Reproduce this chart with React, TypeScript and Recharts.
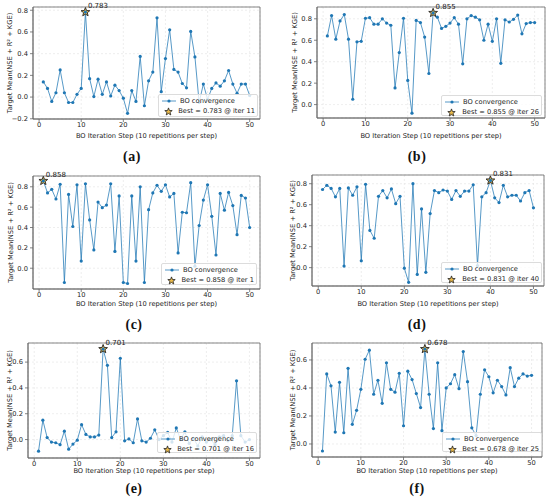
import { LineChart, Line, XAxis, YAxis, CartesianGrid, ReferenceDot, ReferenceArea, Legend } from 'recharts'

document.body.style.margin = '0'

const ITERS = [
  1, 2, 3, 4, 5, 6, 7, 8, 9, 10, 11, 12, 13, 14, 15, 16, 17, 18, 19, 20, 21, 22, 23, 24, 25,
  26, 27, 28, 29, 30, 31, 32, 33, 34, 35, 36, 37, 38, 39, 40, 41, 42, 43, 44, 45, 46, 47, 48, 49, 50,
]
const X_TICKS = [0, 10, 20, 30, 40, 50]
const X_LABEL = 'BO Iteration Step (10 repetitions per step)'
const Y_LABEL = 'Target Mean(NSE + R² + KGE)'
const SERIES_NAME = 'BO convergence'

// (a)
const A_VALUES = [
  0.14, 0.08, -0.04, 0.04, 0.25, 0.04, -0.05, -0.05, 0.025, 0.08,
  0.783, 0.17, 0.005, 0.165, 0.025, 0.14, 0.01, 0.11, 0.06, -0.01,
  -0.15, 0.06, -0.04, 0.375, -0.08, 0.15, 0.23, 0.73, 0.05, 0.355,
  0.62, 0.255, 0.23, 0.125, 0.085, 0.605, 0.37, -0.05, 0.12, -0.02,
  0.08, 0.13, 0.1, 0.15, 0.245, 0.12, 0.035, 0.12, 0.12, 0.015,
]
const A_BEST = { iter: 11, value: 0.783 }

// (b)
const B_VALUES = [
  0.64, 0.83, 0.61, 0.78, 0.84, 0.61, 0.05, 0.585, 0.59, 0.805,
  0.81, 0.75, 0.75, 0.8, 0.76, 0.74, 0.155, 0.485, 0.805, 0.225,
  -0.08, 0.785, 0.765, 0.63, 0.29, 0.855, 0.815, 0.71, 0.73, 0.76,
  0.81, 0.75, 0.38, 0.8, 0.83, 0.815, 0.79, 0.6, 0.75, 0.59,
  0.8, 0.385, 0.79, 0.77, 0.795, 0.835, 0.66, 0.755, 0.765, 0.765,
]
const B_BEST = { iter: 26, value: 0.855 }

// (c)
const C_VALUES = [
  0.858, 0.74, 0.775, 0.68, 0.825, -0.14, 0.725, 0.41, 0.82, 0.07,
  0.83, 0.475, 0.18, 0.65, 0.595, 0.62, 0.83, 0.165, 0.71, -0.14,
  -0.15, 0.71, 0.07, 0.8, -0.14, 0.575, 0.74, 0.815, 0.755, 0.82,
  0.7, 0.735, 0.15, 0.55, 0.545, 0.84, 0.02, 0.42, 0.67, 0.82,
  0.51, 0.13, 0.735, 0.57, 0.745, 0.615, 0.33, 0.715, 0.69, 0.4,
]
const C_BEST = { iter: 1, value: 0.858 }

// (d)
const D_VALUES = [
  0.745, 0.785, 0.755, 0.675, 0.755, 0.015, 0.76, 0.69, 0.77, 0.065,
  0.795, 0.355, 0.28, 0.68, 0.735, 0.665, 0.75, 0.61, 0.68, -0.005,
  -0.14, 0.8, -0.065, 0.56, -0.045, 0.515, 0.735, 0.715, 0.74, 0.73,
  0.65, 0.735, 0.68, 0.73, 0.73, 0.79, 0.02, 0.675, 0.715, 0.831,
  0.665, 0.62, 0.785, 0.675, 0.69, 0.69, 0.635, 0.715, 0.735, 0.57,
]
const D_BEST = { iter: 40, value: 0.831 }

// (e)
const E_VALUES = [
  -0.09, 0.15, 0.015, -0.02, -0.025, -0.04, 0.065, -0.075, -0.035, -0.005,
  0.115, 0.04, 0.02, 0.02, 0.035, 0.701, 0.575, 0.015, 0.06, 0.63,
  -0.01, 0.005, -0.025, 0.16, -0.01, -0.02, 0.01, 0.075, 0.0, 0.03,
  0.055, -0.02, 0.09, 0.0, 0.06, -0.03, 0.01, -0.05, 0.02, -0.02,
  0.0, -0.04, 0.02, 0.03, -0.01, 0.03, 0.455, 0.03, -0.02, 0.0,
]
const E_BEST = { iter: 16, value: 0.701 }

// (f)
const F_VALUES = [
  -0.05, 0.5, 0.415, 0.085, 0.44, 0.08, 0.54, 0.14, 0.24, 0.39,
  0.605, 0.67, 0.355, 0.455, 0.29, 0.58, 0.39, 0.37, 0.505, 0.13,
  0.52, 0.46, 0.36, 0.26, 0.678, 0.355, 0.11, 0.58, 0.095, 0.4,
  0.43, 0.495, 0.395, 0.66, 0.445, 0.115, 0.06, 0.355, 0.53, 0.48,
  0.365, 0.455, 0.41, 0.35, 0.545, 0.41, 0.47, 0.5, 0.485, 0.49,
]
const F_BEST = { iter: 25, value: 0.678 }

const Y_TICKS_A = [-0.2, 0, 0.2, 0.4, 0.6, 0.8]
const Y_TICKS_BCD = [0, 0.2, 0.4, 0.6, 0.8]
const Y_TICKS_EF = [0, 0.2, 0.4, 0.6]

const X_DOMAIN = [-1.45, 52.45]
const CHART_W = 275
const CHART_H = 140
const FS = 6.7
const BLUE = '#1f77b4'
const AXIS = '#666'

const PANELS = [
  { id: 'a', values: A_VALUES, best: A_BEST, yTicks: Y_TICKS_A, yDomain: [-0.202, 0.83], left: 0, top: 0,
    plot: { l: 33, r: 260, t: 7, b: 119 }, yLabelX: 10, cap: { x: 132, y: 157 }, leg: { x: 158, y: 94, w: 100, h: 23 } },
  { id: 'b', values: B_VALUES, best: B_BEST, yTicks: Y_TICKS_BCD, yDomain: [-0.125, 0.91], left: 275, top: 0,
    plot: { l: 42, r: 270, t: 7, b: 118 }, yLabelX: 20, cap: { x: 142, y: 157 }, leg: { x: 166, y: 95, w: 101, h: 21 } },
  { id: 'c', values: C_VALUES, best: C_BEST, yTicks: Y_TICKS_BCD, yDomain: [-0.204, 0.906], left: 0, top: 168,
    plot: { l: 33, r: 260, t: 8, b: 121 }, yLabelX: 11, cap: { x: 134, y: 157 }, leg: { x: 161, y: 95, w: 96, h: 22 } },
  { id: 'd', values: D_VALUES, best: D_BEST, yTicks: Y_TICKS_BCD, yDomain: [-0.175, 0.883], left: 275, top: 168,
    plot: { l: 37, r: 269, t: 7, b: 118 }, yLabelX: 18, cap: { x: 142, y: 157 }, leg: { x: 166, y: 94, w: 101, h: 21 } },
  { id: 'e', values: E_VALUES, best: E_BEST, yTicks: Y_TICKS_EF, yDomain: [-0.143, 0.748], left: 0, top: 335,
    plot: { l: 28, r: 260, t: 8, b: 123 }, yLabelX: 10, cap: { x: 134, y: 154 }, leg: { x: 157, y: 97, w: 100, h: 21 } },
  { id: 'f', values: F_VALUES, best: F_BEST, yTicks: Y_TICKS_EF, yDomain: [-0.093, 0.721], left: 275, top: 335,
    plot: { l: 37, r: 267, t: 8, b: 122 }, yLabelX: 18, cap: { x: 142, y: 154 }, leg: { x: 167, y: 97, w: 100, h: 20 } },
]

function fmtY(v: number) {
  return v < 0 ? '\u2212' + Math.abs(v).toFixed(1) : v.toFixed(1)
}

function starPath(cx: number, cy: number, R: number, r: number) {
  let d = ''
  for (let i = 0; i < 10; i++) {
    const rad = i % 2 === 0 ? R : r
    const a = -Math.PI / 2 + (i * Math.PI) / 5
    d += (i ? 'L' : 'M') + (cx + rad * Math.cos(a)).toFixed(2) + ',' + (cy + rad * Math.sin(a)).toFixed(2)
  }
  return d + 'Z'
}

function StarIcon({ size = 9 }: { size?: number }) {
  const c = size / 2
  return (
    <svg width={size} height={size} style={{ display: 'block' }}>
      <path d={starPath(c, c + 0.3, c - 0.6, (c - 0.6) * 0.42)} fill="#e9b949" stroke="#222" strokeWidth={0.8} />
    </svg>
  )
}

function LegendBox({ best }: { best: { iter: number; value: number } }) {
  const row = { display: 'flex', alignItems: 'center', height: 10, fontSize: FS, color: '#222', whiteSpace: 'nowrap' as const }
  return (
    <div style={{ width: '100%', height: '100%', boxSizing: 'border-box', background: 'rgba(255,255,255,0.8)',
      border: '1px solid #dcdcdc', borderRadius: 2, padding: '1px 2px' }}>
      <div style={row}>
        <svg width={16} height={6} style={{ marginRight: 3 }}>
          <line x1={1} y1={3} x2={15} y2={3} stroke={BLUE} strokeOpacity={0.75} strokeWidth={1} />
          <circle cx={8} cy={3} r={1.6} fill={BLUE} />
        </svg>
        <span>{SERIES_NAME}</span>
      </div>
      <div style={row}>
        <div style={{ width: 16, marginRight: 3, display: 'flex', justifyContent: 'center' }}>
          <StarIcon />
        </div>
        <span>{`Best = ${best.value.toFixed(3)} @ iter ${best.iter}`}</span>
      </div>
    </div>
  )
}

function Panel({ p }: { p: (typeof PANELS)[number] }) {
  const data = ITERS.map((iter, i) => ({ iter, value: p.values[i] }))
  const { l, r, t, b } = p.plot
  const tick = { fontSize: FS, fill: '#222' }
  return (
    <div style={{ position: 'absolute', left: p.left, top: p.top, width: CHART_W, height: 168 }}>
      <LineChart width={CHART_W} height={CHART_H} data={data} margin={{ top: t, right: CHART_W - r, left: 0, bottom: 0 }}>
        <CartesianGrid stroke="#e2e2e2" strokeDasharray="2 2" strokeWidth={0.6} />
        <XAxis dataKey="iter" type="number" domain={X_DOMAIN} ticks={X_TICKS} height={CHART_H - b}
          tick={tick} tickSize={3} tickMargin={0.5} stroke={AXIS} strokeWidth={0.8}
          label={{ value: X_LABEL, position: 'insideBottom', offset: 1.8, style: { fontSize: FS, fill: '#222' } }} />
        <YAxis type="number" domain={p.yDomain} ticks={p.yTicks} width={l} allowDataOverflow
          tick={tick} tickSize={3} tickMargin={2} tickFormatter={fmtY} stroke={AXIS} strokeWidth={0.8}
          label={{ value: Y_LABEL, angle: -90, position: 'insideLeft', offset: p.yLabelX,
            style: { fontSize: FS, fill: '#222', textAnchor: 'middle' } }} />
        <ReferenceArea x1={X_DOMAIN[0]} x2={X_DOMAIN[1]} y1={p.yDomain[0]} y2={p.yDomain[1]}
          fill="none" stroke={AXIS} strokeWidth={0.8} ifOverflow="visible" />
        <Line type="linear" dataKey="value" name={SERIES_NAME} stroke={BLUE} strokeOpacity={0.75} strokeWidth={1}
          dot={{ r: 1.6, fill: BLUE, stroke: BLUE, strokeWidth: 0, fillOpacity: 1 }} activeDot={false}
          isAnimationActive={false} />
        <ReferenceDot x={p.best.iter} y={p.best.value} r={4} ifOverflow="visible"
          shape={(s: any) => (
            <g>
              <path d={starPath(s.cx, s.cy, 4.6, 1.95)} fill="#e9b949" stroke="#222" strokeWidth={0.9} />
              <text x={s.cx + 2.5} y={s.cy - 4} fontSize={7} fill="#222">{p.best.value.toFixed(3)}</text>
            </g>
          )} />
        <Legend layout="vertical" align="center" verticalAlign="middle"
          wrapperStyle={{ left: p.leg.x, top: p.leg.y, width: p.leg.w, height: p.leg.h, margin: 0, padding: 0 }}
          content={() => <LegendBox best={p.best} />} />
      </LineChart>
      <div style={{ position: 'absolute', left: p.cap.x, top: p.cap.y, transform: 'translate(-50%, -50%)',
        fontFamily: '"Liberation Serif", serif', fontSize: 14, fontWeight: 'bold', letterSpacing: 0.5,
        color: '#111', lineHeight: 1 }}>
        ({p.id})
      </div>
    </div>
  )
}

export default function App() {
  return (
    <div style={{ position: 'relative', width: 550, height: 503, background: '#fff', fontFamily: '"DejaVu Sans", sans-serif' }}>
      {PANELS.map((p) => <Panel key={p.id} p={p} />)}
    </div>
  )
}
